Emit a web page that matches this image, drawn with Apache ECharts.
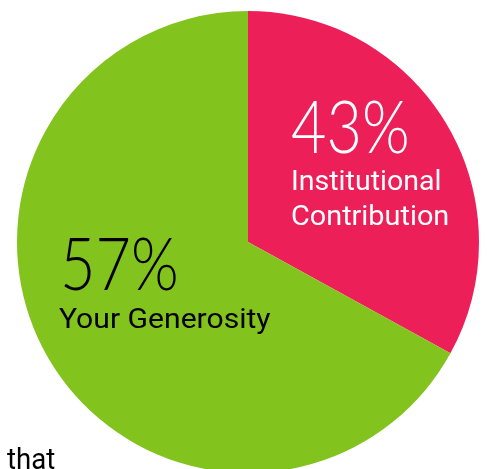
<!DOCTYPE html>
<html>
<head>
<meta charset="utf-8">
<script src="https://cdn.jsdelivr.net/npm/echarts@6/dist/echarts.min.js"></script>
<style>
html,body{margin:0;padding:0;background:#fff;}
#chart{width:487px;height:469px;}
</style>
</head>
<body>
<div id="chart"></div>
<script>
// Data
var categories = ['Institutional Contribution', 'Your Generosity'];
var sliceValues = [33, 67];            // drawn slice proportions
var percentLabels = ['43%', '57%'];    // printed labels
var labelLines = [['Institutional', 'Contribution'], ['Your Generosity']];
var footerText = 'that';

var colors = ['#ED1F58', '#83C31E'];
var FONT = 'Lato, "Noto Sans", sans-serif';
var FONT2 = 'Roboto, "Noto Sans", sans-serif';

var chart = echarts.init(document.getElementById('chart'), null, {renderer: 'canvas'});

var pieData = categories.map(function (c, i) {
  return { name: c, value: sliceValues[i], itemStyle: { color: colors[i] } };
});

function txt(x, y, s, font, fill, sx) {
  return { type: 'text', left: x, top: y, scaleX: sx || 1, z: 100, zlevel: 0,
    style: { text: s, font: font, fill: fill } };
}

chart.setOption({
  animation: false,
  series: [{
    type: 'pie',
    z: 1,
    center: [248, 242],
    radius: [0, 231],
    startAngle: 90,
    clockwise: true,
    silent: true,
    label: { show: false },
    labelLine: { show: false },
    itemStyle: { borderWidth: 0 },
    data: pieData
  }],
  graphic: {
    elements: [
      txt(291, 94, percentLabels[0], '300 72px ' + FONT, '#fff', 0.85),
      txt(291, 169, labelLines[0][0], '400 28px ' + FONT2, '#fff', 1.02),
      txt(291, 204, labelLines[0][1], '400 28px ' + FONT2, '#fff', 1.03),
      txt(60, 231, percentLabels[1], '300 72px ' + FONT, '#000', 0.85),
      txt(59, 307, labelLines[1][0], '400 28px ' + FONT2, '#000', 1.075),
      txt(7, 446, footerText, '400 30px ' + FONT2, '#000', 0.92)
    ]
  }
});
</script>
</body>
</html>
